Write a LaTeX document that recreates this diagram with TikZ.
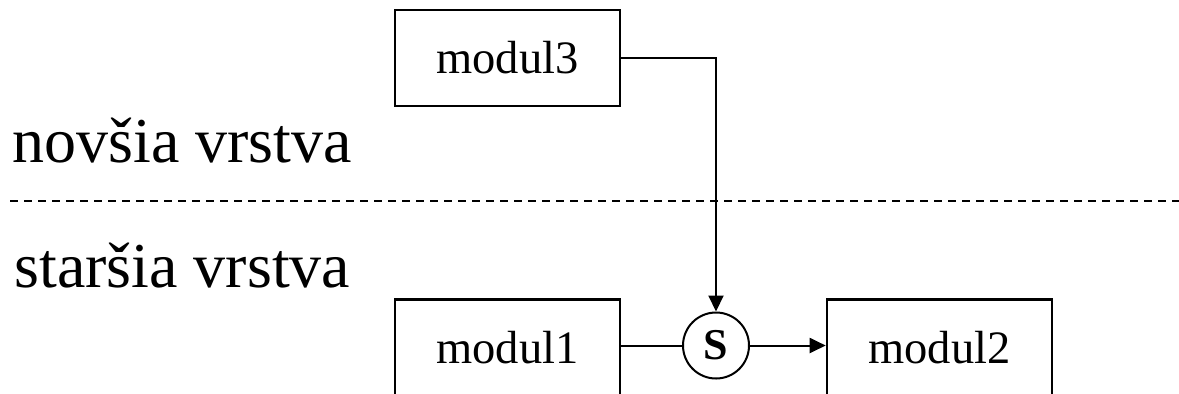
\documentclass[tikz,border=0pt]{standalone}
\usepackage{fontspec}
\setmainfont{Liberation Serif}
\usetikzlibrary{positioning, arrows.meta}

\begin{document}
\begin{tikzpicture}[x=0.5pt, y=-0.5pt,
                    modbox/.style={draw, line width=1.3pt, minimum width=112.5pt, minimum height=48pt,
                                   inner sep=0pt, font=\fontsize{23.25}{28}\selectfont},
                    lowbox/.style={modbox, anchor=north, text height=32pt, text depth=30pt},
                    selnode/.style={draw, circle, line width=1pt, minimum size=33pt, inner sep=0pt,
                                    font=\fontsize{22}{26}\selectfont\bfseries},
                    carrow/.style={-{Triangle[length=8pt, width=7.5pt]}, line width=1pt},
                    vrstva/.style={anchor=base west, inner sep=0pt, font=\fontsize{32}{38}\selectfont}]
    \useasboundingbox (0,0) rectangle (1179,393);
    \clip (0,0) rectangle (1179,393);
    % layer labels and the border between them
    \node[vrstva] (nova) at (12,162) {novšia vrstva};
    \node[vrstva] (stara) at (14,287) {staršia vrstva};
    \coordinate (hranicaL) at (10,201);
    \coordinate (hranicaR) at (1179,201);
    \draw[dashed, dash pattern=on 4pt off 3pt, line width=0.8pt] (hranicaL) -- (hranicaR);
    % modules, the lower ones run past the bottom edge
    \draw (507.5,58) node[modbox] (m3) {modul3}
          (507.5,298) node[lowbox] (m1) {modul1}
          (939.5,298) node[lowbox] (m2) {modul2}
          (716,345.5) node[selnode] (s) {S};
    \draw[carrow] (m3.east) -| (s.north);
    \draw[line width=1pt] (m1.east |- s.west) -- (s.west);
    \draw[carrow] (s.east) -- (m2.west |- s.east);
\end{tikzpicture}
\end{document}
